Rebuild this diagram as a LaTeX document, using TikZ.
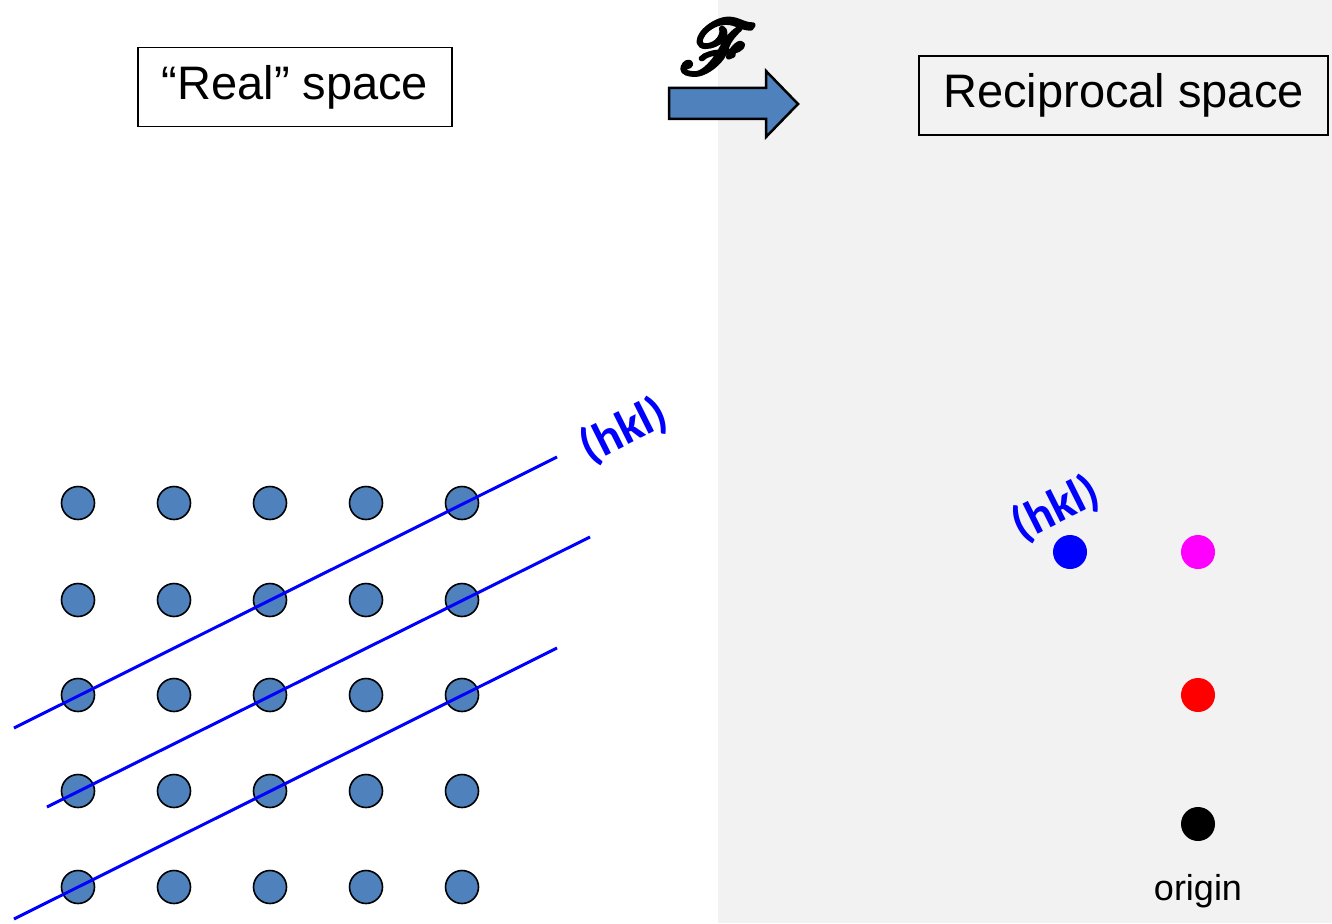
\documentclass[tikz,border=0pt]{standalone}
\usepackage{fontspec}
\usepackage{mathrsfs}
\setmainfont{Liberation Sans}
\newfontfamily\hklfont{Carlito}
\definecolor{dotblue}{HTML}{4F81BD}
\definecolor{greybg}{HTML}{F2F2F2}
\newcommand{\heavytext}[1]{\special{pdf:literal direct 2 Tr 0.55 w 1 j}#1\special{pdf:literal direct 0 Tr}}
\begin{document}
\begin{tikzpicture}[x=1pt,y=-1pt,
  titlebox/.style={draw=black,line width=1.5pt,inner sep=0pt,minimum height=79pt,font=\fontsize{47}{56}\selectfont},
  latdot/.style={circle,draw=black,line width=1.6pt,fill=dotblue,minimum size=33pt,inner sep=0pt},
  recdot/.style={circle,minimum size=34pt,inner sep=0pt},
  hklline/.style={draw={rgb,255:red,0;green,0;blue,255},line width=3pt},
  hkllabel/.style={text={rgb,255:red,0;green,0;blue,255},font=\hklfont\bfseries\fontsize{48}{56}\selectfont,rotate=26.6,inner sep=0pt}]
\useasboundingbox (0,0) rectangle (1332,923);
\fill[white] (0,0) rectangle (718,923);
\fill[greybg] (718,0) rectangle (1332,923);
% title boxes
\node[titlebox,fill=white,minimum width=314pt] (real) at (295,87) {\raisebox{-4pt}{``Real'' space}};
\node[titlebox,fill=greybg,minimum width=409pt] (recip) at (1123.5,95.5) {\raisebox{-4pt}{Reciprocal space}};
% transform arrow
\draw[fill=dotblue,line width=2.5pt,line join=miter] (669,88) -- (766,88) -- (766,71) -- (798,104) -- (766,137) -- (766,119) -- (669,119) -- cycle;
\node[scale=7.5,inner sep=0pt] (ft) at (718,47) {\heavytext{$\mathscr{F}$}};
% lattice
\foreach \c [count=\i] in {78,174,270,366,462}{
  \foreach \r [count=\j] in {503,600,695,791,887}{
    \node[latdot] (d\i\j) at (\c,\r) {};
  }
}
% planes
\coordinate (a1) at (14,728); \coordinate (b1) at (557,457);
\coordinate (a2) at (47,807); \coordinate (b2) at (590,537);
\coordinate (a3) at (14,919); \coordinate (b3) at (557,648);
\draw[hklline] (a1) -- (b1);
\draw[hklline] (a2) -- (b2);
\draw[hklline] (a3) -- (b3);
\node[hkllabel] (hkl1) at (624,431) {(hkl)};
% reciprocal lattice
\node[recdot,fill={rgb,255:red,0;green,0;blue,255}] (rb) at (1070,552) {};
\node[recdot,fill={rgb,255:red,255;green,0;blue,255}] (rm) at (1198,552) {};
\node[recdot,fill={rgb,255:red,255;green,0;blue,0}] (rr) at (1198,695) {};
\node[recdot,fill=black] (ro) at (1198,824) {};
\node[hkllabel] (hkl2) at (1056,509) {(hkl)};
\node[font=\fontsize{36}{42}\selectfont] (orig) at (1198,891) {origin};
\end{tikzpicture}
\end{document}
